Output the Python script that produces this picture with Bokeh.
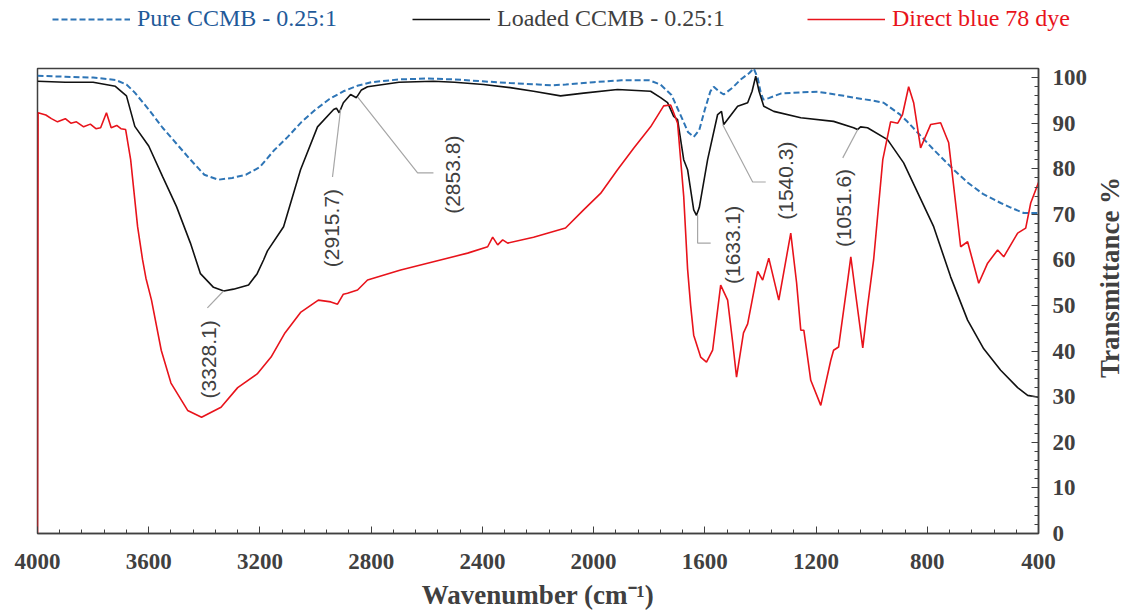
import math
from bokeh.plotting import figure
from bokeh.layouts import column, row
from bokeh.models import (Range1d, SingleIntervalTicker, Legend, LegendItem,
                          ColumnDataSource)
from bokeh.core.properties import value
from bokeh.embed import file_html
from bokeh.resources import INLINE

# ---------------- data ----------------
pure_wn = [4000, 3900, 3800, 3720, 3680, 3650, 3600, 3550, 3500, 3450, 3400, 3350, 3300,
           3250, 3200, 3150, 3100, 3050, 3000, 2950, 2900, 2850, 2800, 2700, 2600, 2500,
           2400, 2300, 2200, 2150, 2100, 2000, 1900, 1800, 1760, 1720, 1700, 1680, 1660,
           1640, 1620, 1600, 1580, 1568, 1550, 1532, 1500, 1471, 1440, 1424, 1410, 1400,
           1390, 1370, 1327, 1250, 1194, 1100, 1065, 1000, 957, 900, 871, 820, 777, 700,
           655, 600, 536, 500, 453, 400]
pure_T = [100.4, 100.2, 100.0, 99.5, 98.5, 96.7, 93.0, 89.0, 85.5, 82.0, 78.7, 77.6, 78.0,
          78.7, 80.4, 84.0, 87.0, 90.3, 93.0, 95.3, 97.0, 98.2, 99.0, 99.6, 99.8, 99.6,
          99.2, 98.8, 98.5, 98.3, 98.5, 99.0, 99.4, 99.4, 98.5, 96.2, 93.5, 90.8, 88.0,
          87.0, 88.5, 93.0, 97.0, 98.0, 97.0, 96.3, 97.8, 99.6, 101.0, 102.0, 100.0, 97.0,
          95.2, 95.5, 96.5, 96.8, 96.9, 96.0, 95.6, 95.0, 94.5, 92.0, 90.3, 87.0, 84.2, 79.5,
          77.0, 74.5, 72.5, 71.5, 70.3, 70.3]

loaded_wn = [4000, 3900, 3800, 3720, 3680, 3650, 3600, 3550, 3500, 3450, 3414, 3367, 3330,
             3295, 3241, 3210, 3187, 3173, 3115, 3054, 2993, 2935, 2925, 2915, 2900, 2874,
             2853, 2835, 2813, 2700, 2576, 2500, 2396, 2300, 2216, 2119, 2036, 1914, 1795,
             1759, 1734, 1712, 1698, 1676, 1662, 1640, 1630, 1620, 1590, 1554, 1540, 1532,
             1482, 1446, 1430, 1417, 1405, 1388, 1352, 1255, 1137, 1065, 1051, 1040, 1015,
             943, 885, 777, 716, 655, 597, 536, 475, 439, 400]
loaded_T = [99.2, 99.0, 99.0, 98.1, 96.0, 89.3, 85.0, 78.3, 71.7, 63.7, 57.0, 54.0, 53.2,
            53.6, 54.5, 57.0, 60.0, 62.0, 67.3, 79.8, 89.2, 93.0, 93.3, 92.3, 94.5, 96.3,
            95.6, 97.3, 98.0, 99.0, 99.2, 99.0, 98.5, 97.8, 97.0, 96.0, 96.6, 97.4, 97.0,
            95.6, 94.5, 91.5, 90.8, 82.0, 79.8, 71.0, 69.8, 71.5, 82.0, 91.9, 92.6, 89.7,
            93.7, 94.5, 97.0, 100.3, 97.0, 93.7, 92.6, 91.2, 90.4, 89.0, 88.6, 89.2, 89.0,
            86.4, 81.3, 67.3, 56.3, 46.8, 40.5, 35.8, 32.0, 30.3, 29.9]

dye_wn = [4000, 3998, 3970, 3950, 3928, 3900, 3880, 3860, 3834, 3810, 3790, 3773, 3752,
          3735, 3715, 3700, 3683, 3665, 3640, 3622, 3610, 3590, 3555, 3520, 3460, 3410,
          3340, 3280, 3210, 3160, 3110, 3054, 2990, 2945, 2921, 2900, 2885, 2849, 2813,
          2694, 2576, 2453, 2381, 2363, 2345, 2327, 2309, 2216, 2101, 2036, 1975, 1914,
          1856, 1795, 1748, 1723, 1712, 1698, 1687, 1676, 1662, 1651, 1640, 1615, 1594,
          1572, 1543, 1518, 1500, 1486, 1461, 1446, 1410, 1392, 1370, 1334, 1291, 1270,
          1255, 1244, 1219, 1183, 1147, 1137, 1119, 1086, 1075, 1058, 1032, 1015, 993,
          960, 932, 906, 889, 867, 849, 824, 788, 752, 723, 680, 655, 615, 583, 547, 525,
          475, 446, 428, 400]
dye_T = [0.0, 92.3, 91.8, 91.0, 90.3, 91.0, 90.0, 90.3, 89.2, 89.8, 88.8, 89.0, 92.3,
         89.0, 89.5, 88.8, 88.6, 82.0, 67.3, 60.0, 56.0, 51.2, 40.2, 33.0, 27.0, 25.5,
         27.7, 32.0, 35.0, 38.7, 44.0, 48.5, 51.2, 50.8, 50.3, 52.5, 52.7, 53.4, 55.6,
         57.8, 59.6, 61.5, 62.9, 65.0, 63.3, 64.4, 63.7, 65.0, 67.0, 71.0, 74.6, 79.8,
         84.5, 89.2, 93.8, 94.0, 92.3, 90.0, 82.0, 74.0, 58.0, 50.0, 43.5, 38.7, 37.6,
         40.2, 54.5, 51.2, 42.0, 34.3, 44.0, 46.0, 57.5, 55.6, 60.4, 51.2, 65.9, 55.0,
         44.6, 44.6, 33.6, 28.1, 38.0, 40.2, 40.9, 55.6, 60.7, 52.7, 40.7, 49.7, 60.0,
         82.0, 90.3, 90.0, 91.9, 98.0, 94.5, 84.6, 89.7, 90.1, 85.7, 62.9, 64.0, 54.9,
         59.3, 62.2, 60.7, 65.9, 67.0, 72.5, 77.0]

series_names = ["Pure CCMB - 0.25:1", "Loaded CCMB - 0.25:1", "Direct blue 78 dye"]
x_title = "Wavenumber (cm\u207b\u00b9)"
y_title = "Transmittance %"

peak_labels = ["(3328.1)", "(2915.7)", "(2853.8)", "(1633.1)", "(1540.3)", "(1051.6)"]
# label centre positions (wavenumber, T)
peak_label_x = [3385, 2942, 2507, 1500, 1309, 1101]
peak_label_y = [38.2, 67.0, 78.7, 63.3, 77.4, 71.4]
# leader lines
leader_xs = [[3331, 3389], [2910, 2939], [2849, 2633, 2576], [1626, 1626, 1579],
             [1536, 1428, 1381], [1050, 1104]]
leader_ys = [[53.2, 49.5], [93.0, 78.2], [95.8, 79.1, 79.1], [69.9, 63.7, 63.7],
             [89.7, 77.1, 77.1], [88.6, 82.4]]

x_ticks_interval = 400
y_ticks_interval = 10

AX = "#404040"
C_PURE = "#2e75b6"
C_PURE_TXT = "#1f5a99"
C_LOADED = "#111111"
C_DYE = "#e8131b"

src_pure = ColumnDataSource(dict(x=pure_wn, y=pure_T))
src_loaded = ColumnDataSource(dict(x=loaded_wn, y=loaded_T))
src_dye = ColumnDataSource(dict(x=dye_wn, y=dye_T))

TOP_H = 55
MAIN_H = 612 - TOP_H
MAIN_W = 1093
TITLE_W = 1126 - MAIN_W


def no_align(fig):
    try:
        fig.frame_align = False
    except Exception:
        pass


# ---------------- legend strip (top) ----------------
# same series drawn in a strip whose y-range lies above the data, so only the legend shows
top = figure(width=1126, height=TOP_H, x_range=Range1d(4000, 400), y_range=Range1d(200, 201),
             x_axis_location=None, y_axis_location=None, output_backend="svg",
             toolbar_location=None, min_border=0, outline_line_color=None,
             background_fill_color="white", border_fill_color="white")
no_align(top)
top.xgrid.visible = False
top.ygrid.visible = False
lg_pure = top.line("x", "y", source=src_pure, line_color=C_PURE, line_width=2,
                   line_dash="6 3")
lg_loaded = top.line("x", "y", source=src_loaded, line_color=C_LOADED, line_width=1.6)
lg_dye = top.line("x", "y", source=src_dye, line_color=C_DYE, line_width=1.6)
legend_specs = [(series_names[0], lg_pure, C_PURE_TXT, 52),
                (series_names[1], lg_loaded, AX, 412),
                (series_names[2], lg_dye, C_DYE, 807)]
for name, rend, col, vx in legend_specs:
    lg = Legend(items=[LegendItem(label=name, renderers=[rend])],
                location=(vx, 23), orientation="horizontal",
                padding=0, margin=0, border_line_alpha=0, background_fill_alpha=0,
                glyph_width=78, glyph_height=20, label_standoff=7,
                label_text_font="Liberation Serif", label_text_font_size="24px",
                label_text_color=col)
    top.add_layout(lg, "center")

# ---------------- main figure ----------------
p = figure(width=MAIN_W, height=MAIN_H, x_range=Range1d(4000, 400), y_range=Range1d(0, 102),
           y_axis_location="right", output_backend="svg", toolbar_location=None,
           min_border_left=37, min_border_right=MAIN_W - 1038, min_border_top=68 - TOP_H,
           min_border_bottom=79, background_fill_color="white", border_fill_color="white")
no_align(p)
p.outline_line_color = AX
p.outline_line_width = 1.5
p.xgrid.visible = False
p.ygrid.visible = False

p.xaxis.ticker = SingleIntervalTicker(interval=x_ticks_interval, num_minor_ticks=5)
p.yaxis.ticker = SingleIntervalTicker(interval=y_ticks_interval, num_minor_ticks=5)
for ax in (p.xaxis[0], p.yaxis[0]):
    ax.axis_line_color = AX
    ax.axis_line_width = 1.5
    ax.major_tick_line_color = AX
    ax.minor_tick_line_color = AX
    ax.major_tick_in = 7
    ax.major_tick_out = 0
    ax.minor_tick_in = 4
    ax.minor_tick_out = 0
    ax.major_label_text_font = "Liberation Serif"
    ax.major_label_text_font_style = "bold"
    ax.major_label_text_font_size = "23px"
    ax.major_label_text_color = AX
p.xaxis.major_label_standoff = 20
p.yaxis.major_label_standoff = 14
p.xaxis.axis_label = x_title
p.xaxis.axis_label_standoff = 8
p.xaxis.axis_label_text_font = "Liberation Serif"
p.xaxis.axis_label_text_font_style = "bold"
p.xaxis.axis_label_text_font_size = "27px"
p.xaxis.axis_label_text_color = AX

p.line("x", "y", source=src_pure, line_color=C_PURE, line_width=2, line_dash="6 3")
p.line("x", "y", source=src_loaded, line_color=C_LOADED, line_width=1.6)
p.line("x", "y", source=src_dye, line_color=C_DYE, line_width=1.6)

# leader lines and peak labels
p.multi_line(xs=leader_xs, ys=leader_ys, line_color="#a6a6a6", line_width=1.2)
p.text(x=peak_label_x, y=peak_label_y, text=peak_labels, angle=math.pi / 2,
       text_align="center", text_baseline="middle", text_font=value("Liberation Sans"),
       text_font_size="21px", text_color=AX)

# ---------------- y-axis title strip (right) ----------------
rt = figure(width=TITLE_W, height=MAIN_H, x_range=Range1d(0, TITLE_W),
            y_range=Range1d(0, MAIN_H), x_axis_location=None, y_axis_location=None,
            output_backend="svg", toolbar_location=None, min_border=0,
            outline_line_color=None, background_fill_color="white",
            border_fill_color="white")
no_align(rt)
rt.xgrid.visible = False
rt.ygrid.visible = False
rt.text(x=[TITLE_W / 2], y=[MAIN_H - (277 - TOP_H)], text=[y_title], angle=math.pi / 2,
        text_align="center", text_baseline="middle",
        text_font=value("Liberation Serif"), text_font_style="bold",
        text_font_size="27px", text_color=AX)

layout = column(top, row(p, rt, spacing=0), spacing=0)
open("out.html", "w").write(file_html(layout, INLINE))
